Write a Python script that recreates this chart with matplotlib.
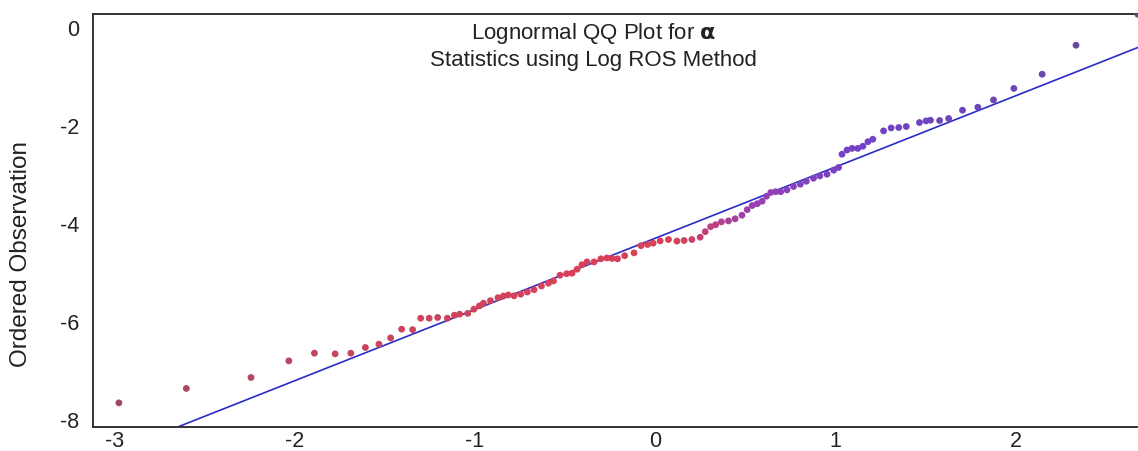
import numpy as np
import matplotlib.pyplot as plt
from matplotlib.colors import LinearSegmentedColormap

theo_q = [-2.976, -2.602, -2.243, -2.033, -1.891, -1.776, -1.689, -1.608, -1.533, -1.468,
          -1.407, -1.346, -1.301, -1.254, -1.207, -1.153, -1.114, -1.085, -1.040, -1.006,
          -0.975, -0.953, -0.914, -0.872, -0.842, -0.815, -0.783, -0.746, -0.709, -0.672,
          -0.631, -0.592, -0.564, -0.528, -0.491, -0.461, -0.433, -0.406, -0.378, -0.339,
          -0.301, -0.268, -0.239, -0.209, -0.169, -0.117, -0.078, -0.042, -0.011, 0.028,
          0.074, 0.121, 0.161, 0.204, 0.250, 0.278, 0.308, 0.336, 0.368, 0.407,
          0.444, 0.482, 0.511, 0.539, 0.567, 0.594, 0.618, 0.642, 0.669, 0.697,
          0.732, 0.768, 0.806, 0.839, 0.879, 0.914, 0.954, 0.991, 1.018, 1.037,
          1.065, 1.093, 1.125, 1.153, 1.181, 1.208, 1.268, 1.310, 1.352, 1.394,
          1.467, 1.504, 1.528, 1.579, 1.629, 1.706, 1.791, 1.878, 1.991, 2.148,
          2.336, 2.679]
ordered_obs = [-7.667, -7.373, -7.149, -6.810, -6.653, -6.667, -6.653, -6.537, -6.469, -6.341,
               -6.163, -6.173, -5.939, -5.939, -5.924, -5.939, -5.878, -5.857, -5.841, -5.755,
               -5.688, -5.633, -5.582, -5.520, -5.486, -5.465, -5.482, -5.449, -5.404, -5.357,
               -5.282, -5.224, -5.178, -5.061, -5.031, -5.020, -4.939, -4.847, -4.790, -4.790,
               -4.727, -4.710, -4.720, -4.727, -4.663, -4.606, -4.459, -4.435, -4.408, -4.361,
               -4.333, -4.365, -4.353, -4.333, -4.286, -4.173, -4.071, -4.031, -3.973, -3.953,
               -3.910, -3.837, -3.724, -3.639, -3.602, -3.551, -3.449, -3.373, -3.357, -3.357,
               -3.320, -3.251, -3.204, -3.143, -3.082, -3.035, -3.000, -2.918, -2.863, -2.592,
               -2.506, -2.473, -2.473, -2.429, -2.337, -2.286, -2.116, -2.055, -2.047, -2.027,
               -1.945, -1.912, -1.898, -1.904, -1.863, -1.694, -1.633, -1.484, -1.249, -0.959,
               -0.367, 0.265]

# fitted line: intercept (mean) and slope (sd)
line_mu = -4.308
line_sigma = 1.4535

x_ticks = [-3, -2, -1, 0, 1, 2]
y_ticks = [0, -2, -4, -6, -8]

plt.rcParams['font.family'] = ['Liberation Sans', 'DejaVu Sans']
plt.rcParams['axes.unicode_minus'] = False

fig = plt.figure(figsize=(11.38, 4.52), dpi=100)
ax = fig.add_axes([0.0817, 0.0531, 0.9183, 0.9137])

# colour goes from muted maroon through red to purple along the data
cmap = LinearSegmentedColormap.from_list(
    "rp", [(0.0, "#9a4b60"), (0.25, "#c8455e"), (0.45, "#d9405a"), (0.55, "#d6415a"),
           (0.62, "#9a40b0"), (0.72, "#7342c8"), (0.9, "#6a48b0"), (1.0, "#5c4f88")])
xq = np.array(theo_q)
cvals = (xq - xq.min()) / (xq.max() - xq.min())
ax.scatter(theo_q, ordered_obs, s=24, c=cvals, cmap=cmap, edgecolors="none", zorder=3)

xl = np.array([-3.12, 2.68])
ax.plot(xl, line_mu + line_sigma * xl, color="#2b2bc8", lw=1.2, zorder=2)

ax.set_xlim(-3.12, 2.68)
ax.set_ylim(-8.16, 0.27)
ax.set_xticks(x_ticks)
ax.set_yticks(y_ticks)
ax.tick_params(length=0, labelsize=15.5, colors="#222222")
ax.tick_params(axis="y", pad=10)
ax.tick_params(axis="x", pad=2)

for side in ["left", "top", "bottom"]:
    ax.spines[side].set_color("#333333")
    ax.spines[side].set_linewidth(1.4)
ax.spines["right"].set_visible(False)

ax.set_ylabel("Ordered Observation", fontsize=17.5, color="#222222")
ax.yaxis.set_label_coords(-0.058, 0.421)

ax.text(0.479, 0.956, r"Lognormal QQ Plot for $\mathbf{\alpha}$", transform=ax.transAxes,
        ha="center", va="center", fontsize=16, color="#222222")
ax.text(0.479, 0.891, "Statistics using Log ROS Method", transform=ax.transAxes,
        ha="center", va="center", fontsize=16, color="#222222")

fig.savefig("out.png", dpi=100)
